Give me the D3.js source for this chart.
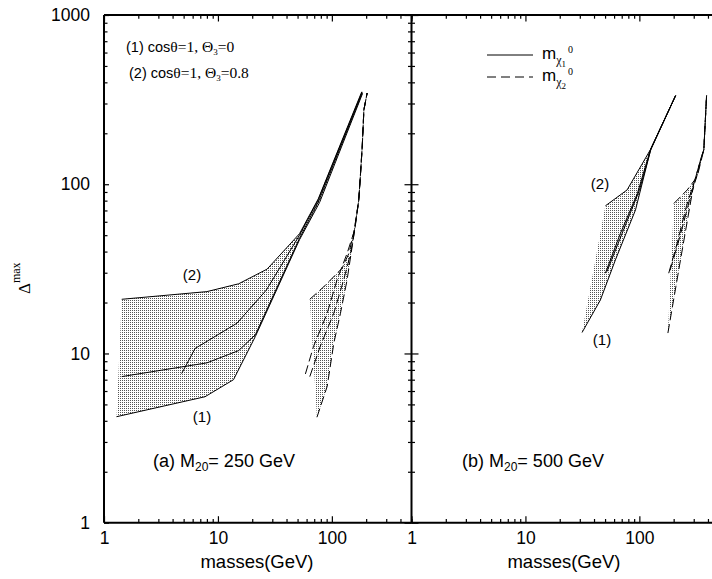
<!DOCTYPE html>
<html>
<head>
<meta charset="utf-8">
<script src="https://cdn.jsdelivr.net/npm/d3@7"></script>
<style>
  body { margin: 0; background: #fff; }
  svg text { fill: #000; }
  .sans { font-family: "Liberation Sans", Arial, sans-serif; }
  .serif { font-family: "Liberation Serif", "Times New Roman", serif; }
</style>
</head>
<body>
<svg id="chart" width="712" height="579"></svg>
<script>
// Delta^max vs neutralino masses, two panels (M20 = 250 / 500 GeV)
// [mass GeV, Delta] — solid = m_chi1, dashed = m_chi2
var L_SOLID_UP = [[1.43, 20.9], [8, 23.2], [15.2, 25.8], [27, 31.5], [52, 51], [76, 82], [183, 352]];
var L_SOLID_LO = [[1.29, 4.23], [7.7, 5.55], [13.7, 7.0], [21.3, 12.6], [52, 47], [78, 78], [186, 344]];
var L_SOLID_M1 = [[1.43, 7.3], [8, 8.8], [15.2, 10.4], [21.3, 12.9], [52, 48], [77, 80], [185, 347]];
var L_SOLID_M2 = [[4.8, 7.6], [6.3, 10.7], [14.7, 15.1], [26.6, 23.7], [52, 50], [76, 81], [184, 350]];

var L_DASH_UP = [[64, 20.9], [85, 24.8], [123, 31.9], [141, 39], [158, 54], [172, 80], [177, 106], [185, 170], [191, 275], [204, 346]];
var L_DASH_LO = [[74, 4.2], [91, 6.4], [104, 11.5], [119, 17.3], [136, 27.2], [150, 42], [158, 53], [172, 80], [177, 106], [185, 170], [191, 275], [204, 346]];
var L_DASH_M1 = [[58.6, 7.57], [69, 11], [91, 17.3], [111, 27.2], [136, 39], [156, 52], [172, 80], [177, 106], [185, 170], [191, 275], [204, 346]];
var L_DASH_M2 = [[64, 7.3], [79, 11], [104, 17.3], [127, 27.2], [146, 39], [159, 54], [172, 80], [177, 106], [185, 170], [191, 275], [204, 346]];

var R_SOLID_UP = [[50.3, 74.5], [78, 92.5], [125, 160], [208, 334]];
var R_SOLID_LO = [[31.4, 13.3], [45.5, 20.7], [61.6, 35.7], [92.5, 70.5], [125, 158], [208, 334]];
var R_SOLID_M1 = [[50.3, 29.8], [68, 51], [96, 88], [125, 160], [208, 334]];
var R_SOLID_M2 = [[52, 30.5], [72, 53], [100, 92], [127, 163], [208, 334]];

var R_DASH_UP = [[201, 77], [263, 92.5], [322, 111], [368, 160], [389, 334]];
var R_DASH_LO = [[178, 13.2], [230, 36], [300, 100], [340, 135], [368, 160], [389, 334]];
var R_DASH_M1 = [[181, 29.8], [215, 45], [260, 75], [310, 108], [350, 145], [368, 160], [389, 334]];
var R_DASH_M2 = [[186, 31], [225, 48], [275, 80], [320, 112], [355, 148], [368, 160], [389, 334]];

var X_MAJOR = [1, 10, 100];
var X_MINOR = [2, 3, 4, 5, 6, 7, 8, 9, 20, 30, 40, 50, 60, 70, 80, 90, 200, 300, 400, 500];
var Y_MAJOR = [1, 10, 100, 1000];
var Y_MINOR = [2, 3, 4, 5, 6, 7, 8, 9, 20, 30, 40, 50, 60, 70, 80, 90, 200, 300, 400, 500, 600, 700, 800, 900];

var svg = d3.select("#chart");
var x0 = 104, xMid = 411.5, yTop = 15, yBot = 522.7;

var xL = d3.scaleLog().domain([1, 500]).range([x0, xMid]);
var xR = d3.scaleLog().domain([1, 500]).range([xMid, xMid + (xMid - x0)]);
var y = d3.scaleLog().domain([1, 1000]).range([yBot, yTop]);

// stipple fill
var defs = svg.append("defs");
var pat = defs.append("pattern").attr("id", "dots").attr("patternUnits", "userSpaceOnUse")
  .attr("width", 2).attr("height", 2);
pat.append("rect").attr("width", 2).attr("height", 2).attr("fill", "#fff");
pat.append("rect").attr("width", 1).attr("height", 1).attr("fill", "#555");

function tidy(g) {
  g.select(".domain").remove();
  g.selectAll(".tick line").attr("stroke", "#000").attr("stroke-width", 1.2);
  g.selectAll(".tick text").attr("class", "sans").style("font-size", "17.5px");
}
function noLabel() { return ""; }

// bottom + top axes for each panel
[xL, xR].forEach(function (xs) {
  svg.append("g").attr("transform", "translate(0," + yBot + ")")
    .call(d3.axisBottom(xs).tickValues(X_MAJOR).tickSize(-6.5).tickPadding(9).tickFormat(d3.format("d")))
    .call(tidy);
  svg.append("g").attr("transform", "translate(0," + yBot + ")")
    .call(d3.axisBottom(xs).tickValues(X_MINOR).tickSize(-3.7).tickFormat(noLabel)).call(tidy);
  svg.append("g").attr("transform", "translate(0," + yTop + ")")
    .call(d3.axisTop(xs).tickValues(X_MAJOR).tickSize(-6.5).tickFormat(noLabel)).call(tidy);
  svg.append("g").attr("transform", "translate(0," + yTop + ")")
    .call(d3.axisTop(xs).tickValues(X_MINOR).tickSize(-3.7).tickFormat(noLabel)).call(tidy);
});

// left y axis
svg.append("g").attr("transform", "translate(" + x0 + ",0)")
  .call(d3.axisLeft(y).tickValues(Y_MAJOR).tickSize(-5).tickPadding(14).tickFormat(d3.format("d")))
  .call(tidy);
svg.append("g").attr("transform", "translate(" + x0 + ",0)")
  .call(d3.axisLeft(y).tickValues(Y_MINOR).tickSize(-3.5).tickFormat(noLabel)).call(tidy);
// divider: ticks on both sides
svg.append("g").attr("transform", "translate(" + xMid + ",0)")
  .call(d3.axisLeft(y).tickValues(Y_MAJOR).tickSize(7).tickFormat(noLabel)).call(tidy);
svg.append("g").attr("transform", "translate(" + xMid + ",0)")
  .call(d3.axisRight(y).tickValues(Y_MAJOR).tickSize(7).tickFormat(noLabel)).call(tidy);
svg.append("g").attr("transform", "translate(" + xMid + ",0)")
  .call(d3.axisLeft(y).tickValues(Y_MINOR).tickSize(3.5).tickFormat(noLabel)).call(tidy);
svg.append("g").attr("transform", "translate(" + xMid + ",0)")
  .call(d3.axisRight(y).tickValues(Y_MINOR).tickSize(3.5).tickFormat(noLabel)).call(tidy);

// frame
var frame = svg.append("g").attr("stroke", "#000").attr("stroke-width", 2).attr("fill", "none");
frame.append("line").attr("x1", x0).attr("x2", 712).attr("y1", yTop).attr("y2", yTop);
frame.append("line").attr("x1", x0).attr("x2", 712).attr("y1", yBot).attr("y2", yBot);
frame.append("line").attr("x1", x0).attr("x2", x0).attr("y1", yTop).attr("y2", yBot);
frame.append("line").attr("x1", xMid).attr("x2", xMid).attr("y1", yTop).attr("y2", yBot);

// bands + curves
function band(xs, up, lo, m1, m2, dashed) {
  var line = d3.line().x(function (d) { return xs(d[0]); }).y(function (d) { return y(d[1]); });
  var poly = up.concat(lo.slice().reverse());
  svg.append("path").attr("d", line(poly) + "Z").attr("fill", "url(#dots)").attr("stroke", "none");
  [up, lo, m1, m2].forEach(function (c) {
    svg.append("path").attr("d", line(c)).attr("fill", "none").attr("stroke", "#000")
      .attr("stroke-width", 1).attr("stroke-dasharray", dashed ? "9,4" : null);
  });
}
band(xL, L_SOLID_UP, L_SOLID_LO, L_SOLID_M1, L_SOLID_M2, false);
band(xL, L_DASH_UP, L_DASH_LO, L_DASH_M1, L_DASH_M2, true);
band(xR, R_SOLID_UP, R_SOLID_LO, R_SOLID_M1, R_SOLID_M2, false);
band(xR, R_DASH_UP, R_DASH_LO, R_DASH_M1, R_DASH_M2, true);

// curve labels
function lab(x, yy, t) {
  svg.append("text").attr("class", "sans").attr("x", x).attr("y", yy).attr("text-anchor", "middle")
    .style("font-size", "15px").text(t);
}
lab(192, 280, "(2)"); lab(202, 422, "(1)");
lab(600, 189, "(2)"); lab(602, 345, "(1)");

// axis titles
svg.append("text").attr("class", "sans").attr("x", 257).attr("y", 568).attr("text-anchor", "middle")
  .style("font-size", "18.5px").text("masses(GeV)");
svg.append("text").attr("class", "sans").attr("x", 564).attr("y", 568).attr("text-anchor", "middle")
  .style("font-size", "18.5px").text("masses(GeV)");
var yt = svg.append("text").attr("class", "serif").attr("transform", "translate(30,294) rotate(-90)")
  .style("font-size", "17px");
yt.append("tspan").text("\u0394");
yt.append("tspan").attr("dy", -10).style("font-size", "12px").text("max");

// panel labels
function panel(x, t) {
  var tx = svg.append("text").attr("class", "sans").attr("x", x).attr("y", 467).style("font-size", "18px");
  tx.append("tspan").text("(" + t[0] + ") M");
  tx.append("tspan").attr("dy", 4).style("font-size", "12px").text("20");
  tx.append("tspan").attr("dy", -4).text("= " + t[1] + " GeV");
}
panel(153, ["a", "250"]);
panel(462, ["b", "500"]);

// parameter notes
function note(x, yy, n, val) {
  var tx = svg.append("text").attr("x", x).attr("y", yy).style("font-size", "15.5px");
  tx.append("tspan").attr("class", "sans").style("font-size", "14.5px").text("(" + n + ") cos");
  tx.append("tspan").attr("class", "serif").text("\u03b8=1, \u0398");
  tx.append("tspan").attr("class", "serif").attr("dy", 3).style("font-size", "9px").text("3");
  tx.append("tspan").attr("class", "serif").attr("dy", -3).text("=" + val);
}
note(126, 52, 1, "0");
note(129, 78, 2, "0.8");

// legend
function legendRow(yy, idx, dashed) {
  svg.append("line").attr("x1", 487).attr("x2", 533).attr("y1", yy).attr("y2", yy)
    .attr("stroke", "#000").attr("stroke-width", 1).attr("stroke-dasharray", dashed ? "9,5" : null);
  var tx = svg.append("text").attr("x", 542).attr("y", yy + 4).style("font-size", "17px");
  tx.append("tspan").attr("class", "sans").text("m");
  tx.append("tspan").attr("class", "serif").attr("dy", 5).style("font-size", "12px").text("\u03c7");
  tx.append("tspan").attr("class", "serif").attr("dy", 3).style("font-size", "9px").text(idx);
  tx.append("tspan").attr("class", "serif").attr("dy", -14).attr("dx", 2).style("font-size", "10px").text("0");
}
legendRow(55, "1", false);
legendRow(77, "2", true);
</script>
</body>
</html>
